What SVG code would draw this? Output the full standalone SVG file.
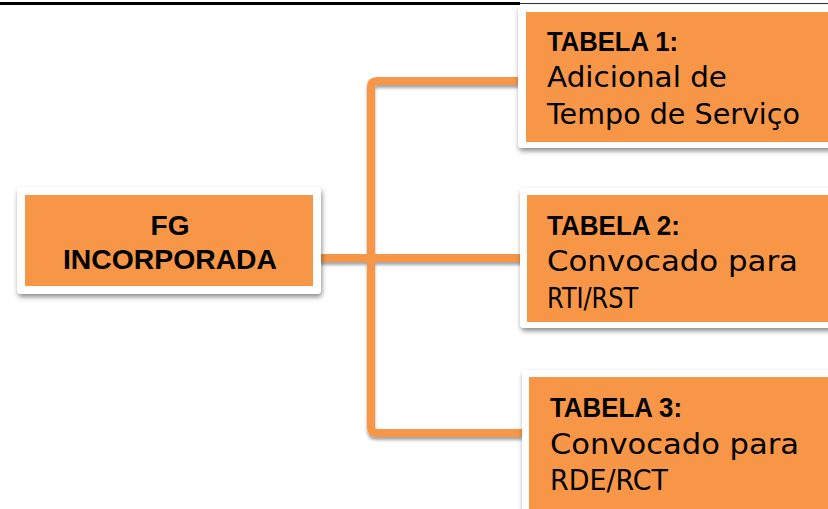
<svg xmlns="http://www.w3.org/2000/svg" width="828" height="509" viewBox="0 0 828 509">
<defs>
<filter id="sh" x="-10%" y="-10%" width="130%" height="140%">
<feDropShadow dx="1" dy="3" stdDeviation="2.5" flood-color="#000" flood-opacity="0.45"/>
</filter>
<filter id="lsh" x="-10%" y="-10%" width="130%" height="130%">
<feDropShadow dx="0" dy="3" stdDeviation="1.5" flood-color="#000" flood-opacity="0.35"/>
</filter>
</defs>
<style>
.frame{fill:#fff;filter:url(#sh)}
.fill{fill:#F79646}
.hd{font-family:"Liberation Sans",Arial,sans-serif;font-weight:bold;font-size:27px;fill:#000}
.bd{font-family:"DejaVu Sans","Liberation Sans",sans-serif;font-size:28px;fill:#000}
.mt{font-family:"Liberation Sans",Arial,sans-serif;font-weight:bold;font-size:28px;fill:#000;text-anchor:middle}
.con{fill:none;stroke:#F79646;stroke-width:8;stroke-linejoin:round}
</style>
<line x1="0" y1="3.5" x2="520" y2="3.5" stroke="#000" stroke-width="3"/>
<line x1="520" y1="3.5" x2="828" y2="3.5" stroke="#333" stroke-width="1.2"/>
<g id="connectors" filter="url(#lsh)">
<path class="con" d="M519,81 H377 Q371,81 371,87 V427 Q371,433 377,433 H523"/>
<path class="con" d="M320,258 H524"/>
</g>
<g id="fg">
<rect class="frame" x="17" y="187" width="304" height="107" rx="4"/>
<rect class="fill" x="25" y="195" width="288" height="91"/>
<text class="mt" x="170" y="235">FG</text>
<text class="mt" x="170" y="269" textLength="214" lengthAdjust="spacingAndGlyphs">INCORPORADA</text>
</g>
<g id="tabela1">
<rect class="frame" x="518" y="5" width="320" height="143" rx="4"/>
<rect class="fill" x="526" y="12" width="310" height="130"/>
<text class="hd" x="547" y="51" textLength="131" lengthAdjust="spacingAndGlyphs">TABELA 1:</text>
<text class="bd" x="547" y="87" textLength="180" lengthAdjust="spacingAndGlyphs">Adicional de</text>
<text class="bd" x="547" y="124" textLength="253" lengthAdjust="spacingAndGlyphs">Tempo de Serviço</text>
</g>
<g id="tabela2">
<rect class="frame" x="520" y="188" width="320" height="140" rx="4"/>
<rect class="fill" x="527" y="195" width="310" height="127"/>
<text class="hd" x="547" y="235" textLength="133" lengthAdjust="spacingAndGlyphs">TABELA 2:</text>
<text class="bd" x="547" y="271" textLength="251" lengthAdjust="spacingAndGlyphs">Convocado para</text>
<text class="bd" x="547" y="308" textLength="91" lengthAdjust="spacingAndGlyphs">RTI/RST</text>
</g>
<g id="tabela3">
<rect class="frame" x="522" y="370" width="320" height="150" rx="4"/>
<rect class="fill" x="529" y="377" width="310" height="140"/>
<text class="hd" x="550" y="417" textLength="132" lengthAdjust="spacingAndGlyphs">TABELA 3:</text>
<text class="bd" x="550" y="454" textLength="249" lengthAdjust="spacingAndGlyphs">Convocado para</text>
<text class="bd" x="550" y="490" textLength="118" lengthAdjust="spacingAndGlyphs">RDE/RCT</text>
</g>
</svg>
